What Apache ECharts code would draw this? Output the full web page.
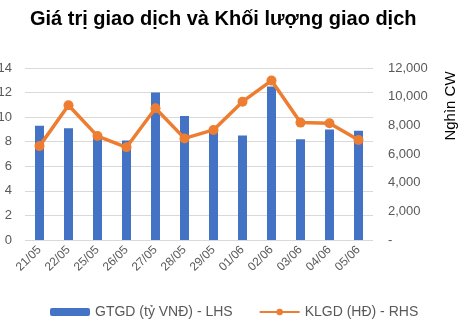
<!DOCTYPE html>
<html><head><meta charset="utf-8">
<script src="https://cdn.jsdelivr.net/npm/echarts@6/dist/echarts.min.js"></script>
<style>html,body{margin:0;padding:0;background:#fff}#c{width:462px;height:329px}</style>
</head><body><div id="c"></div>
<script>
const categories = ['21/05','22/05','25/05','26/05','27/05','28/05','29/05','01/06','02/06','03/06','04/06','05/06'];
const gtgd = [9.3, 9.1, 8.4, 8.1, 12.0, 10.1, 8.8, 8.5, 12.5, 8.2, 9.0, 8.9];
const klgd = [6550, 9400, 7250, 6470, 9190, 7090, 7680, 9650, 11120, 8190, 8140, 6980];
const leftTicks = {min: 0, max: 14, interval: 2};
const rightTicks = {min: 0, max: 12000, interval: 2000};

const chart = echarts.init(document.getElementById('c'));
const font = 'Liberation Sans, Arial, sans-serif';
chart.setOption({
  animation: false,
  textStyle: {fontFamily: font},
  title: {
    text: 'Giá trị giao dịch và Khối lượng giao dịch',
    left: 25, top: 4,
    textStyle: {fontSize: 20, fontWeight: 'bold', color: '#000', fontFamily: font}
  },
  graphic: [{
    type: 'text', x: 451, y: 106, rotation: Math.PI / 2,
    style: {text: 'Nghìn CW', fill: '#000', font: '15px ' + font, align: 'center', verticalAlign: 'middle'}
  }],
  grid: {left: 25, right: 89, top: 68, bottom: 89, outerBoundsMode: 'none', containLabel: false},
  legend: {
    bottom: 5, left: 45, itemGap: 26, itemWidth: 40, itemHeight: 8,
    textStyle: {fontSize: 14, color: '#595959', fontFamily: font},
    data: ['GTGD (tỷ VNĐ) - LHS', 'KLGD (HĐ) - RHS']
  },
  xAxis: {
    type: 'category', data: categories,
    axisLine: {show: false}, axisTick: {show: false},
    axisLabel: {rotate: 45, color: '#595959', fontSize: 12, margin: 8, interval: 0}
  },
  yAxis: [
    {type: 'value', min: leftTicks.min, max: leftTicks.max, interval: leftTicks.interval,
     axisLabel: {color: '#595959', fontSize: 13, margin: 13},
     splitLine: {lineStyle: {color: '#d9d9d9', width: 1}}},
    {type: 'value', min: rightTicks.min, max: rightTicks.max, interval: rightTicks.interval,
     splitLine: {show: false},
     axisLabel: {color: '#595959', fontSize: 13, margin: 15,
       formatter: v => v === 0 ? '-' : v.toLocaleString('en-US')}}
  ],
  series: [
    {name: 'GTGD (tỷ VNĐ) - LHS', type: 'bar', data: gtgd, yAxisIndex: 0,
     barWidth: 9, itemStyle: {color: '#4472C4'}},
    {name: 'KLGD (HĐ) - RHS', type: 'line', data: klgd, yAxisIndex: 1,
     symbol: 'circle', symbolSize: 10,
     lineStyle: {color: '#ED7D31', width: 3.5}, itemStyle: {color: '#ED7D31'}}
  ]
});
</script></body></html>
